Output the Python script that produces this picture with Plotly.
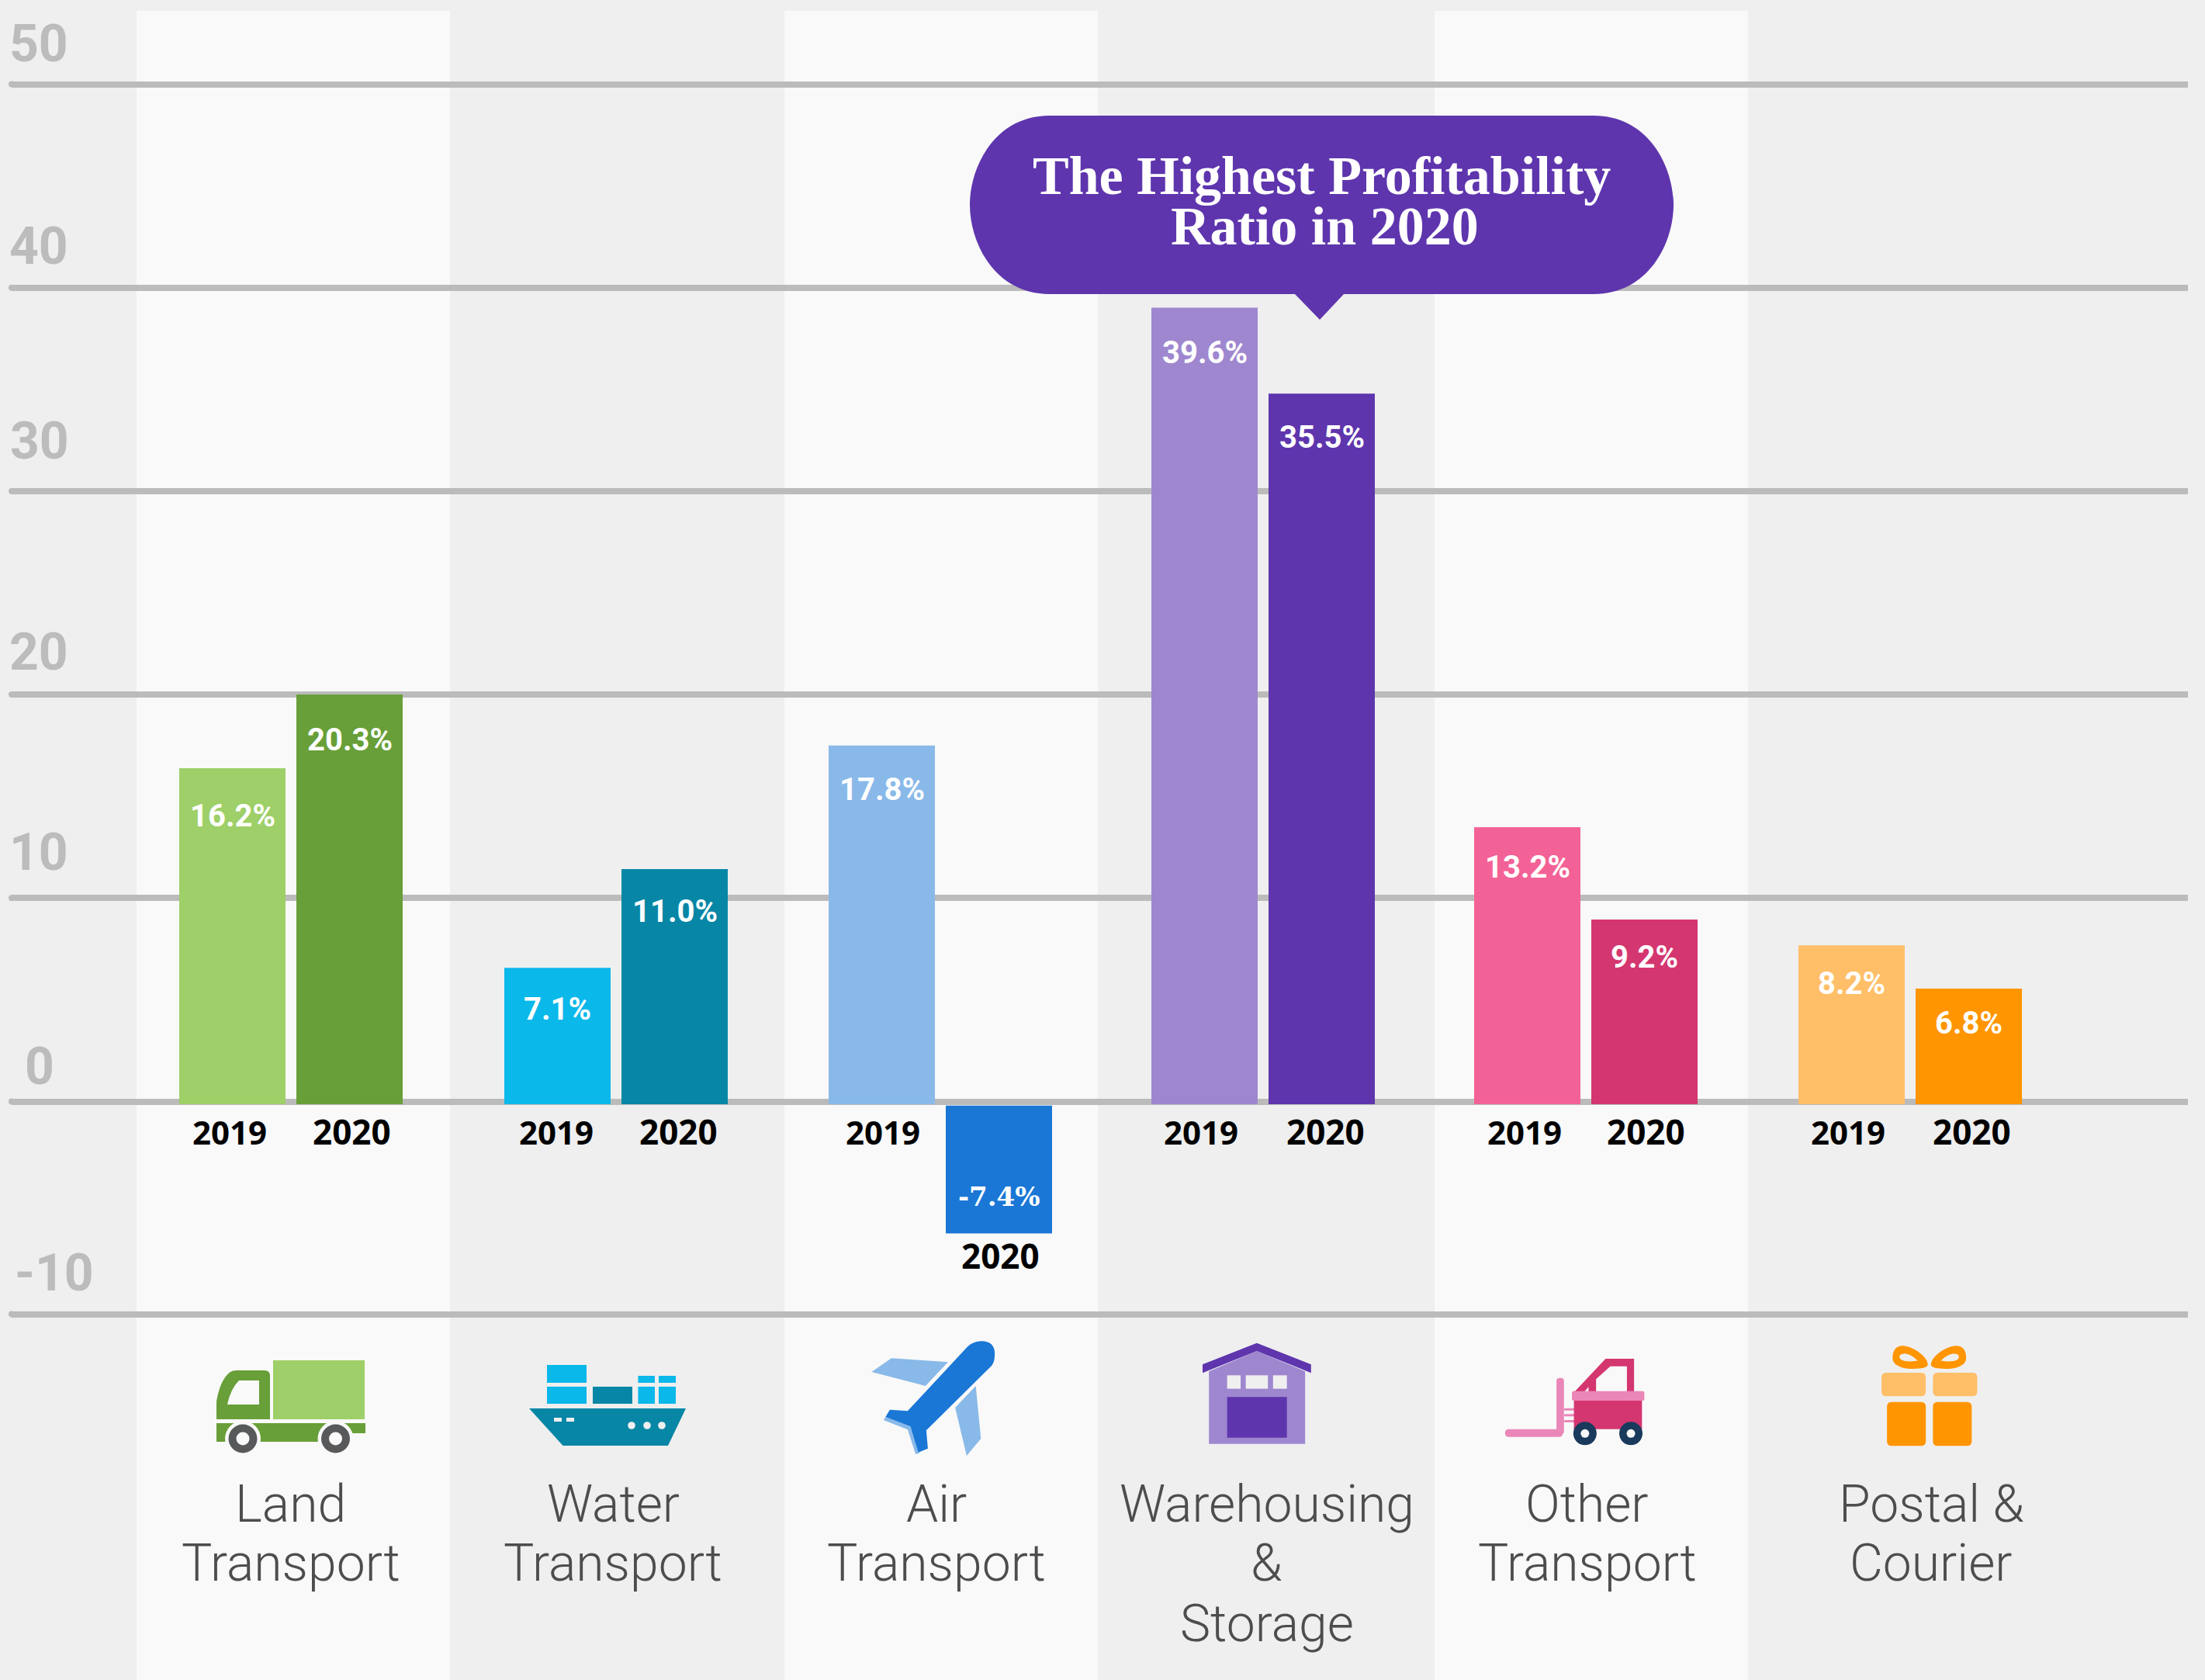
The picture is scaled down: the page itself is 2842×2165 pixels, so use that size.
import plotly.graph_objects as go

# ---------- data ----------
categories = ["Land Transport", "Water Transport", "Air Transport",
              "Warehousing & Storage", "Other Transport", "Postal & Courier"]
category_lines = [["Land", "Transport"], ["Water", "Transport"], ["Air", "Transport"],
                  ["Warehousing", "&", "Storage"], ["Other", "Transport"], ["Postal &", "Courier"]]
# printed labels
labels_2019 = ["16.2%", "7.1%", "17.8%", "39.6%", "13.2%", "8.2%"]
labels_2020 = ["20.3%", "11.0%", "-7.4%", "35.5%", "9.2%", "6.8%"]
# bar heights as drawn in the picture, read against the gridlines
values_2019 = [16.38, 6.57, 17.50, 39.02, 13.48, 7.68]
values_2020 = [20.00, 11.42, -6.48, 34.79, 8.94, 5.55]
colors_2019 = ["#9ecf68", "#0ab8ea", "#89b9e9", "#9f87d0", "#f36296", "#ffbf69"]
colors_2020 = ["#689f38", "#0786a6", "#1a77d6", "#5e35ad", "#d43670", "#ff9500"]
tick_values = [50, 40, 30, 20, 10, 0, -10.45]
tick_labels = ["50", "40", "30", "20", "10", "0", "-10"]
years = ["2019", "2020"]

# ---------- layout constants (page pixels) ----------
W, H = 2842, 2165
BG, BAND = "#efefef", "#f9f9f9"
PX_PER_GROUP, X0 = 417.4, 374
PX_PER_UNIT, Y0 = 26.22, 1419.5
GRID_L, GRID_R = 15, 2820
GROUP_PX = [375, 794, 1212, 1628, 2044, 2462]
BAR_W, BAR_GAP = 137, 14

def px(x): return x / W
def py(y): return 1 - y / H

shapes = []
def rect(x0, y0, x1, y1, color, layer="above"):
    shapes.append(dict(type="rect", xref="paper", yref="paper", x0=px(x0), x1=px(x1),
                       y0=py(y0), y1=py(y1), fillcolor=color, line_width=0, layer=layer))
def circle(cx, cy, r, color, layer="above"):
    shapes.append(dict(type="circle", xref="paper", yref="paper", x0=px(cx - r), x1=px(cx + r),
                       y0=py(cy - r), y1=py(cy + r), fillcolor=color, line_width=0, layer=layer))
def path(d, color, layer="above"):
    out = []
    for tok in d:
        if isinstance(tok, str):
            out.append(tok)
        else:
            out.append(f"{px(tok[0]):.6f},{py(tok[1]):.6f}")
    shapes.append(dict(type="path", xref="paper", yref="paper", path=" ".join(out),
                       fillcolor=color, line_width=0, layer=layer))
def poly(points, color):
    d = ["M", points[0]]
    for p in points[1:]:
        d += ["L", p]
    d.append("Z")
    path(d, color)
def rrect(x0, y0, x1, y1, r, color):
    path(["M", (x0 + r, y0), "L", (x1 - r, y0), "Q", (x1, y0), (x1, y0 + r),
          "L", (x1, y1 - r), "Q", (x1, y1), (x1 - r, y1),
          "L", (x0 + r, y1), "Q", (x0, y1), (x0, y1 - r),
          "L", (x0, y0 + r), "Q", (x0, y0), (x0 + r, y0), "Z"], color)

# alternating column bands
for a, b in [(176, 580), (1011, 1415), (1849, 2253)]:
    rect(a, 14, b, H, BAND, layer="below")
# rounded gridline starts
for v in tick_values:
    circle(GRID_L, Y0 - v * PX_PER_UNIT, 4, "#bbbbbb", layer="below")

# callout
path(["M", (1353, 149), "L", (2054, 149), "C", (2125, 149), (2157, 215), (2157, 264),
      "C", (2157, 313), (2125, 379), (2054, 379), "L", (1732, 379), "L", (1701, 412),
      "L", (1669, 379), "L", (1353, 379), "C", (1282, 379), (1250, 313), (1250, 264),
      "C", (1250, 215), (1282, 149), (1353, 149), "Z"], "#5e35ad")

# --- truck
rect(352, 1753, 470, 1829, "#9ecf68")
path(["M", (279, 1829), "L", (279, 1806), "Q", (284, 1777), (297, 1768), "Q", (300, 1766), (305, 1766),
      "L", (341, 1766), "Q", (348, 1766), (348, 1773), "L", (348, 1829), "Z"], "#689f38")
path(["M", (293, 1810), "Q", (297, 1790), (308, 1779), "L", (334, 1779), "L", (334, 1810), "Z"], BAND)
rect(279, 1834, 471, 1847, "#689f38")
rect(279, 1847, 420, 1858, "#689f38")
for cx in (313, 432.5):
    circle(cx, 1854, 23, BAND)
    circle(cx, 1854, 18.5, "#58595b")
    circle(cx, 1854, 8.5, BAND)
# --- ship
for a, b, t, u in [(705, 756, 1759, 1782), (705, 756, 1787, 1809), (822.4, 844, 1773, 1782),
                   (849, 871, 1773, 1782), (822.4, 844, 1787, 1809), (849, 871, 1787, 1809)]:
    rect(a, t, b, u, "#0ab8ea")
rect(764, 1787, 815, 1809, "#0786a6")
poly([(682, 1815), (884, 1815), (861, 1863), (725.5, 1863)], "#0786a6")
rect(714, 1827, 724, 1832, BG)
rect(730, 1827, 740, 1832, BG)
for cx in (814, 834, 853):
    circle(cx, 1837, 4.8, BG)
# --- plane
def pl(zx, zy): return (1000 + zx / 1.96, 1680 + zy / 3)
poly([pl(292, 211), pl(435, 226), pl(378, 318), pl(242, 264)], "#89b9e9")
poly([pl(505, 318), pl(518, 522), pl(482, 588), pl(453, 402)], "#89b9e9")
poly([pl(272, 450), pl(333, 487), pl(353, 582), pl(362, 578), pl(340, 475), pl(277, 438)], "#89b9e9")
path(["M", pl(485, 165), "Q", pl(500, 145), pl(520, 145), "Q", pl(553, 145), pl(553, 195),
      "Q", pl(553, 225), pl(545, 240), "L", pl(380, 490), "L", pl(384, 560), "L", pl(360, 575),
      "L", pl(340, 475), "L", pl(277, 438), "L", pl(288, 410), "L", pl(333, 415), "Z"], "#1a77d6")
# --- warehouse
poly([pl(1094, 542), pl(1094, 262), pl(1215, 183), pl(1337, 262), pl(1337, 542)], "#9f87d0")
poly([pl(1078, 235), pl(1215, 152), pl(1352, 235), pl(1352, 268), pl(1215, 183), pl(1078, 268)], "#5e35ad")
for a, b in [(1140, 1174), (1187, 1243), (1256, 1291)]:
    l, t = pl(a, 277); r, u = pl(b, 329)
    rect(l, t, r, u, BG)
l, t = pl(1140, 361); r, u = pl(1291, 518)
rect(l, t, r, u, "#5e35ad")
# --- forklift
def fk(zx, zy): return (1800 + zx / 1.96, 1680 + zy / 3)
rrect(*fk(274, 485), *fk(420, 515), 5, "#ea87b8")
rrect(*fk(404, 287), *fk(423, 505), 4, "#ea87b8")
for zy in (404, 427, 450):
    rrect(*fk(423, zy), *fk(458, zy + 9), 1.5, "#ea87b8")
poly([fk(450, 340), fk(528, 213), fk(600, 213), fk(600, 340)], "#d43670")
poly([fk(504, 340), fk(504, 292), fk(540, 242), fk(582, 242), fk(582, 340)], BAND)
poly([fk(475, 340), fk(485, 322), fk(485, 340)], BAND)
l, t = fk(448, 372); r, u = fk(620, 485)
rect(l, t, r, u, "#d43670")
rrect(*fk(443, 338), *fk(626, 375), 2, "#ea87b8")
for zx in (476, 592):
    x, y = fk(zx, 502)
    circle(x, y, 15, "#1a3a5c")
    circle(x, y, 5.5, BAND)
# --- gift
rrect(*fk(1225, 267), *fk(1337, 358), 6, "#ffbf69")
rrect(*fk(1355, 267), *fk(1467, 358), 6, "#ffbf69")
rrect(*fk(1239, 380), *fk(1337, 550), 6, "#ff9500")
rrect(*fk(1355, 380), *fk(1453, 550), 6, "#ff9500")
path(["M", fk(1342, 235), "C", fk(1340, 200), fk(1300, 163), fk(1278, 163),
      "C", fk(1258, 163), fk(1253, 190), fk(1253, 210),
      "C", fk(1253, 240), fk(1280, 252), fk(1300, 252),
      "C", fk(1320, 252), fk(1342, 250), fk(1342, 235), "Z"], "#ff9500")
path(["M", fk(1316, 220), "C", fk(1300, 195), fk(1285, 190), fk(1276, 195),
      "C", fk(1266, 203), fk(1270, 218), fk(1285, 222), "C", fk(1295, 224), fk(1310, 224), fk(1316, 220), "Z"], BG)
path(["M", fk(1350, 235), "C", fk(1352, 200), fk(1392, 163), fk(1414, 163),
      "C", fk(1434, 163), fk(1439, 190), fk(1439, 210),
      "C", fk(1439, 240), fk(1412, 252), fk(1392, 252),
      "C", fk(1372, 252), fk(1350, 250), fk(1350, 235), "Z"], "#ff9500")
path(["M", fk(1375, 220), "C", fk(1392, 195), fk(1407, 190), fk(1416, 195),
      "C", fk(1424, 203), fk(1422, 218), fk(1407, 222), "C", fk(1397, 224), fk(1382, 224), fk(1375, 220), "Z"], BG)

# ---------- text ----------
ann = []
def text(x, y, s, size, color, family="Roboto", weight=400):
    ann.append(dict(x=x, y=y, xref="paper", yref="paper", text=s, showarrow=False, xanchor="center",
                    yanchor="middle", font=dict(family=family, size=size, color=color, weight=weight),
                    align="center"))

# axis labels sit above their gridlines
axis_label_x = [50, 50, 51, 50, 50, 51, 70]
axis_label_y = [57, 317, 569, 841, 1098, 1374, 1640]
for s, xp, yp in zip(tick_labels, axis_label_x, axis_label_y):
    text(px(xp), py(yp), s, 66, "#bcbcbc", weight=700)

# value labels
dy_2019 = [61, 53, 57, 58, 51, 49]
dy_2020 = [58, 54, None, 56, 48, 45]
half = (BAR_W + BAR_GAP) / 2
for i in range(6):
    top = Y0 - values_2019[i] * PX_PER_UNIT
    text(px(GROUP_PX[i] - half), py(top + dy_2019[i]), labels_2019[i], 40, "white", weight=700)
    if dy_2020[i] is None:
        text(px(GROUP_PX[i] + half), py(1542), labels_2020[i], 34, "white",
             family="DejaVu Serif", weight=700)
    else:
        top = Y0 - values_2020[i] * PX_PER_UNIT
        text(px(GROUP_PX[i] + half), py(top + dy_2020[i]), labels_2020[i], 40, "white", weight=700)

# year labels under the bars
year_x_2019 = [296, 717, 1138, 1548, 1965, 2382]
year_x_2020 = [453, 874, 1289, 1709, 2121, 2541]
for i in range(6):
    text(px(year_x_2019[i]), py(1458), years[0], 42, "black", family="Noto Sans", weight=700)
    text(px(year_x_2020[i]), py(1618 if values_2020[i] < 0 else 1458), years[1], 44, "black",
         family="Noto Sans", weight=700)

# category names, one annotation per line
label_x = [375, 790, 1207, 1633, 2046, 2489]
line_y = [1938, 2014, 2092]
for i, lines in enumerate(category_lines):
    for j, s in enumerate(lines):
        text(px(label_x[i]), py(line_y[j]), s, 66, "#4d4d4d", weight=300)

# callout text
text(px(1703), py(227), "The Highest Profitability", 70, "white", family="Liberation Serif", weight=700)
text(px(1707), py(291), "Ratio in 2020", 70, "white", family="Liberation Serif", weight=700)

# ---------- figure ----------
x_pos = [(g - X0) / PX_PER_GROUP for g in GROUP_PX]
fig = go.Figure()
fig.add_bar(x=x_pos, y=[v + 0.13 for v in values_2019], base=-0.13, name="2019",
            width=BAR_W / PX_PER_GROUP, offset=-(BAR_W + BAR_GAP / 2) / PX_PER_GROUP,
            marker=dict(color=colors_2019, line_width=0), hovertext=categories)
fig.add_bar(x=x_pos, y=[v + 0.13 if v > 0 else v + 0.2 for v in values_2020],
            base=[-0.13 if v > 0 else -0.2 for v in values_2020], name="2020",
            width=BAR_W / PX_PER_GROUP, offset=(BAR_GAP / 2) / PX_PER_GROUP,
            marker=dict(color=colors_2020, line_width=0), hovertext=categories)
fig.update_layout(
    width=W, height=H, margin=dict(l=0, r=0, t=0, b=0, pad=0),
    autosize=False, showlegend=False,
    paper_bgcolor=BG, plot_bgcolor="rgba(0,0,0,0)",
    barmode="overlay",
    shapes=shapes, annotations=ann,
    xaxis=dict(domain=[GRID_L / W, GRID_R / W],
               range=[(GRID_L - X0) / PX_PER_GROUP, (GRID_R - X0) / PX_PER_GROUP],
               visible=False, fixedrange=True),
    yaxis=dict(domain=[0, 1], range=[-(H - Y0) / PX_PER_UNIT, Y0 / PX_PER_UNIT],
               tickmode="array", tickvals=tick_values, ticktext=[""] * len(tick_values),
               showgrid=True, gridcolor="#bbbbbb", gridwidth=8,
               zeroline=False, showline=False, ticks="", fixedrange=True),
)
fig.write_html("out.html", config={"displayModeBar": False},
               post_script="document.body.style.margin='0';document.body.style.background='#efefef';")
